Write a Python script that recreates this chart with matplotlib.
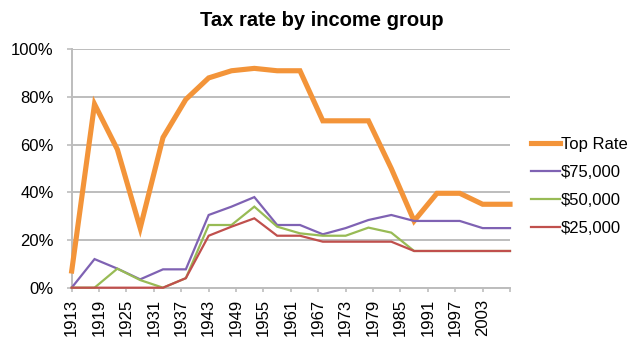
import matplotlib
matplotlib.use("Agg")
import matplotlib.pyplot as plt

plt.rcParams['font.family'] = ['Liberation Sans', 'DejaVu Sans']

# ---- data ----
years = [1913, 1918, 1923, 1928, 1933, 1938, 1943, 1948, 1953, 1958,
         1963, 1968, 1973, 1978, 1983, 1988, 1993, 1998, 2003, 2009]
top_rate = [7, 77, 58, 25, 63, 79, 88, 91, 92, 91,
            91, 70, 70, 70, 50, 28, 39.6, 39.6, 35, 35]
inc_75k = [0, 12, 8, 3.5, 7.7, 7.7, 30.5, 34, 38, 26.3,
           26.3, 22.4, 25, 28.4, 30.5, 28, 28, 28, 25, 25]
inc_50k = [0, 0, 8, 3.2, 0, 4, 26.3, 26.3, 34, 25.6,
           22.8, 21.8, 21.8, 25.2, 23.1, 15.4, 15.4, 15.4, 15.4, 15.4]
inc_25k = [0, 0, 0, 0, 0, 4, 21.8, 25.6, 29.1, 21.8,
           21.8, 19.3, 19.3, 19.3, 19.3, 15.4, 15.4, 15.4, 15.4, 15.4]
series_names = ['Top Rate', '$75,000', '$50,000', '$25,000']
tick_years = [1913, 1919, 1925, 1931, 1937, 1943, 1949, 1955, 1961,
              1967, 1973, 1979, 1985, 1991, 1997, 2003, 2009]
tick_labels = ['1913', '1919', '1925', '1931', '1937', '1943', '1949', '1955',
               '1961', '1967', '1973', '1979', '1985', '1991', '1997', '2003', '']
y_ticks = [0, 20, 40, 60, 80, 100]
y_labels = ['0%', '20%', '40%', '60%', '80%', '100%']
title = 'Tax rate by income group'

colors = ['#F39439', '#7F62B3', '#98BB55', '#C0504D']
widths = [3.7, 1.6, 1.6, 1.6]

W, H = 631, 337
fig = plt.figure(figsize=(W / 100, H / 100), dpi=100)
x0, x1 = 71.7, 510
y0, y1 = 287.7, 49.3
ax = fig.add_axes([x0 / W, 1 - y0 / H, (x1 - x0) / W, (y0 - y1) / H])

grid_c = '#BDBDBD'
for i, (vals, name) in enumerate(zip([top_rate, inc_75k, inc_50k, inc_25k], series_names)):
    ax.plot(years, vals, color=colors[i], lw=widths[i], label=name,
            clip_on=False, zorder=5 + i, solid_joinstyle='miter')

ax.set_xlim(1913, 2009)
ax.set_ylim(0, 100)
ax.set_yticks(y_ticks)
ax.set_yticklabels(y_labels, fontsize=12)
ax.set_xticks(tick_years)
ax.set_xticklabels(tick_labels, rotation=90, fontsize=12)

ax.yaxis.grid(True, color=grid_c, lw=1.4, zorder=1)
ax.set_axisbelow(True)
for s in ['top', 'right']:
    ax.spines[s].set_visible(False)
for s in ['left', 'bottom']:
    ax.spines[s].set_color(grid_c)
    ax.spines[s].set_linewidth(1.4)
ax.tick_params(axis='y', length=3.6, width=1.2, color=grid_c, pad=9.5)
ax.tick_params(axis='x', length=3.2, width=1.2, color=grid_c, pad=5)

fig.text(322 / W, 1 - 20 / H, title, ha='center', va='center',
         fontsize=14.5, fontweight='bold')

fig.legend(loc='upper left', bbox_to_anchor=(531 / W, 1 - 137 / H),
           frameon=False, fontsize=12, handlelength=1.75, handletextpad=0.05,
           labelspacing=0.78, borderpad=0, borderaxespad=0)

fig.savefig('out.png', dpi=100)
